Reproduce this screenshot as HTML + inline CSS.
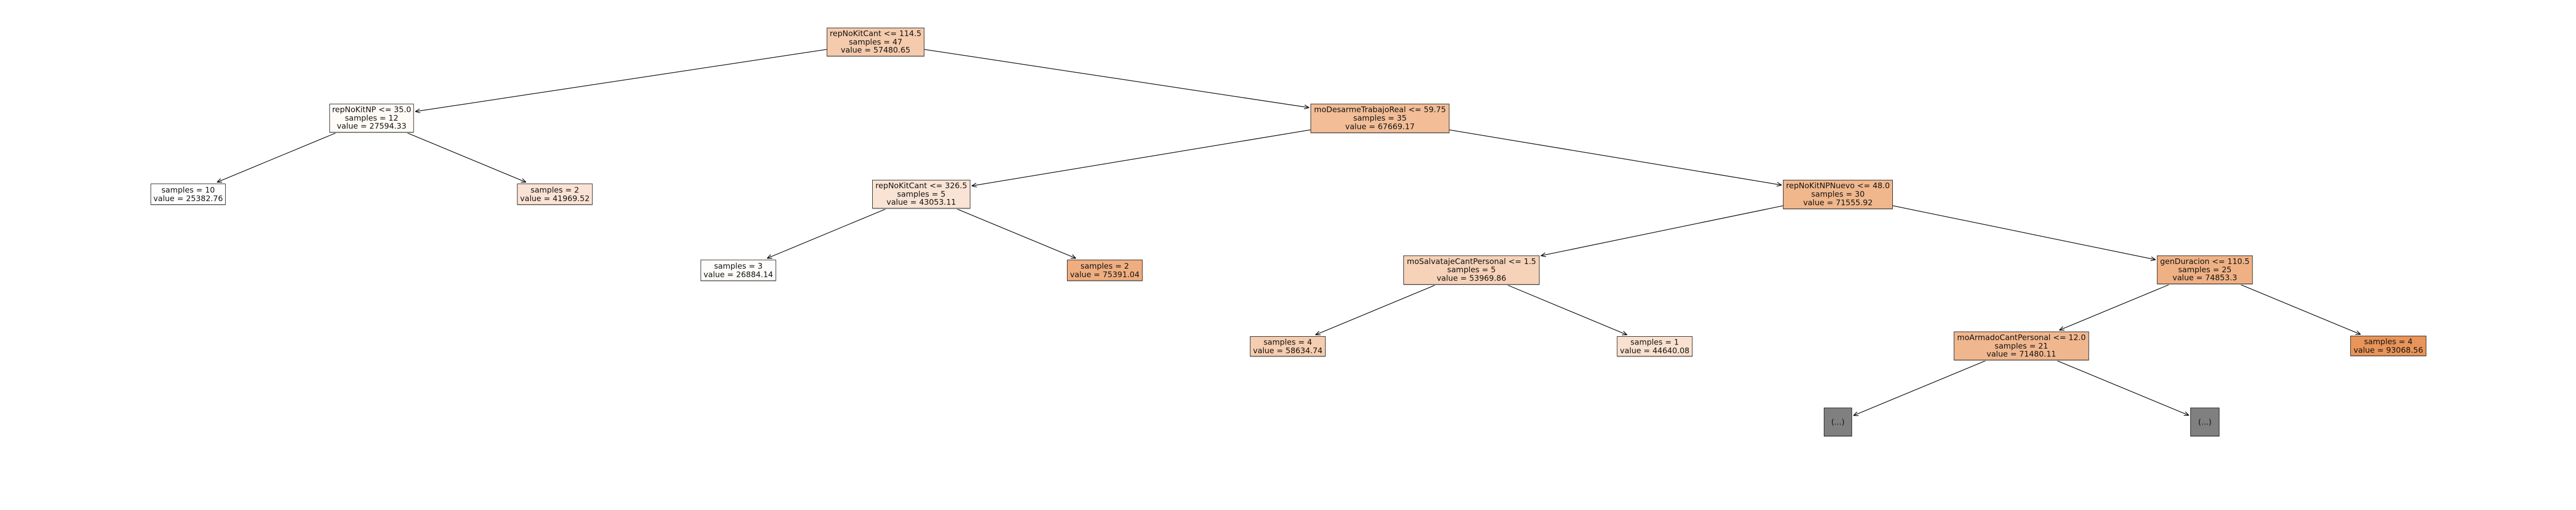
<!DOCTYPE html>
<html><head><meta charset="utf-8">
<style>
html,body{margin:0;padding:0;background:#fff;overflow:hidden;}
#w{width:5490px;height:989px;position:relative;overflow:hidden;font-family:"DejaVu Sans","Liberation Sans",sans-serif;transform-origin:0 0;}
svg{position:absolute;left:0;top:0;}
.n{position:absolute;box-sizing:border-box;border:1.5px solid #111;display:flex;flex-direction:column;justify-content:center;align-items:center;font-size:16.5px;line-height:17.8px;color:#111;white-space:nowrap;box-shadow:0 1.5px 0 #ccc;}
.n div{text-align:center;}
</style></head><body>
<div id="w">
<svg id="s" width="5490" height="989"></svg>
<div class="n" id="A" style="left:1762px;top:59px;width:208px;height:61px;background:#f4cbad"><div>repNoKitCant &lt;= 114.5</div><div>samples = 47</div><div>value = 57480.65</div></div>
<div class="n" id="B" style="left:702px;top:221px;width:180px;height:61px;background:#fefaf6"><div>repNoKitNP &lt;= 35.0</div><div>samples = 12</div><div>value = 27594.33</div></div>
<div class="n" id="C" style="left:321px;top:391px;width:160px;height:45px;background:#ffffff"><div>samples = 10</div><div>value = 25382.76</div></div>
<div class="n" id="D" style="left:1102px;top:391px;width:161px;height:45px;background:#fae3d4"><div>samples = 2</div><div>value = 41969.52</div></div>
<div class="n" id="E" style="left:2793px;top:221px;width:296px;height:62px;background:#f2bd97"><div>moDesarmeTrabajoReal &lt;= 59.75</div><div>samples = 35</div><div>value = 67669.17</div></div>
<div class="n" id="F" style="left:1859px;top:383px;width:209px;height:61px;background:#f9e3d4"><div>repNoKitCant &lt;= 326.5</div><div>samples = 5</div><div>value = 43053.11</div></div>
<div class="n" id="G" style="left:1493px;top:553px;width:161px;height:45px;background:#fefcfa"><div>samples = 3</div><div>value = 26884.14</div></div>
<div class="n" id="H" style="left:2274px;top:553px;width:161px;height:45px;background:#efae80"><div>samples = 2</div><div>value = 75391.04</div></div>
<div class="n" id="I" style="left:3800px;top:383px;width:234px;height:62px;background:#f0b78d"><div>repNoKitNPNuevo &lt;= 48.0</div><div>samples = 30</div><div>value = 71555.92</div></div>
<div class="n" id="J" style="left:2991px;top:544px;width:290px;height:62px;background:#f6d2b8"><div>moSalvatajeCantPersonal &lt;= 1.5</div><div>samples = 5</div><div>value = 53969.86</div></div>
<div class="n" id="K" style="left:2664px;top:716px;width:161px;height:43px;background:#f5cdb0"><div>samples = 4</div><div>value = 58634.74</div></div>
<div class="n" id="L" style="left:3446px;top:716px;width:161px;height:43px;background:#fae1cf"><div>samples = 1</div><div>value = 44640.08</div></div>
<div class="n" id="M" style="left:4597px;top:544px;width:204px;height:61px;background:#efb184"><div>genDuracion &lt;= 110.5</div><div>samples = 25</div><div>value = 74853.3</div></div>
<div class="n" id="N" style="left:4164px;top:706px;width:288px;height:61px;background:#f0b78e"><div>moArmadoCantPersonal &lt;= 12.0</div><div>samples = 21</div><div>value = 71480.11</div></div>
<div class="n" id="O" style="left:3887px;top:868px;width:60px;height:61px;background:#808080"><div>(...)</div></div>
<div class="n" id="P" style="left:4668px;top:868px;width:62px;height:61px;background:#808080"><div>(...)</div></div>
<div class="n" id="Q" style="left:5009px;top:715px;width:162px;height:43px;background:#e99459"><div>samples = 4</div><div>value = 93068.56</div></div>
</div>
<script>
var R={A:[1762,1970,59,120],B:[702,882,221,282],C:[321,481,391,436],D:[1102,1263,391,436],E:[2793,3089,221,283],F:[1859,2068,383,444],G:[1493,1654,553,598],H:[2274,2435,553,598],I:[3800,4034,383,445],J:[2991,3281,544,606],K:[2664,2825,716,759],L:[3446,3607,716,759],M:[4597,4801,544,605],N:[4164,4452,706,767],O:[3887,3947,868,929],P:[4668,4730,868,929],Q:[5009,5171,715,758]};
var E=[["A","B"],["A","E"],["B","C"],["B","D"],["E","F"],["E","I"],["F","G"],["F","H"],["I","J"],["I","M"],["J","K"],["J","L"],["M","N"],["M","Q"],["N","O"],["N","P"]];
var s=document.getElementById('s'),h='';
function c(r){return[(r[0]+r[1])/2,(r[2]+r[3])/2];}
E.forEach(function(e){
 var p=c(R[e[0]]),r=R[e[1]],q=c(r);
 var dx=p[0]-q[0],dy=p[1]-q[1];
 var hw=(r[1]-r[0])/2+3,hh=(r[3]-r[2])/2+3;
 var t=Math.min(Math.abs(hw/dx)||1e9,Math.abs(hh/dy)||1e9);
 var ex=q[0]+dx*t,ey=q[1]+dy*t;
 h+='<line x1="'+p[0]+'" y1="'+p[1]+'" x2="'+ex+'" y2="'+ey+'" stroke="#111" stroke-width="1.5"/>';
 var L=Math.hypot(dx,dy),ux=dx/L,uy=dy/L,a=0.4,l=11;
 for(var k=-1;k<=1;k+=2){var ca=Math.cos(a*k),sa=Math.sin(a*k);
  var vx=ux*ca-uy*sa,vy=ux*sa+uy*ca;
  h+='<line x1="'+ex+'" y1="'+ey+'" x2="'+(ex+vx*l)+'" y2="'+(ey+vy*l)+'" stroke="#111" stroke-width="1.5"/>';}
});
s.innerHTML=h;
function fit(){var W=window.innerWidth||5490;
 var sx=W/5490;
 if(Math.abs(sx-1)>0.01){document.getElementById('w').style.transform='scale('+sx+','+sx+')';}
 else{document.getElementById('w').style.transform='none';}}
fit();window.addEventListener('resize',fit);
</script>
</body></html>
